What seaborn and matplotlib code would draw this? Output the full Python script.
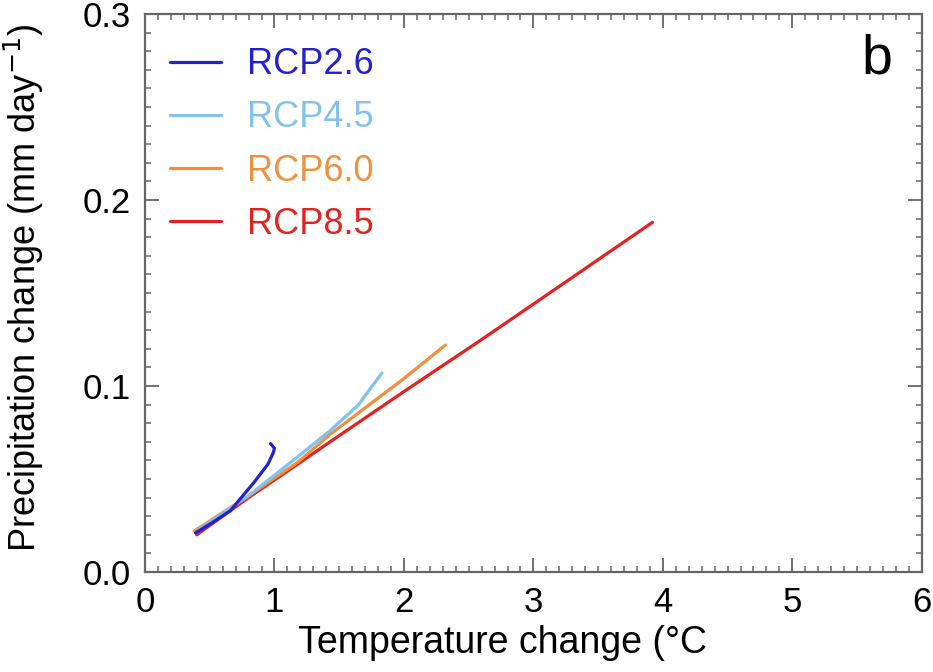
import pandas as pd
import matplotlib.pyplot as plt
import numpy as np
import seaborn as sns
from matplotlib.ticker import MultipleLocator

scenarios = ['RCP2.6', 'RCP4.5', 'RCP6.0', 'RCP8.5']
colors = ['#2222d2', '#82c2ee', '#f0903e', '#e2231f']

# temperature change (°C) and precipitation change (mm/day)
rcp26_t = [0.39, 0.53, 0.66, 0.84, 0.95, 0.99, 1.00, 0.97]
rcp26_p = [0.021, 0.027, 0.033, 0.048, 0.058, 0.064, 0.0665, 0.069]
rcp45_t = [0.42, 0.80, 1.18, 1.43, 1.65, 1.83]
rcp45_p = [0.023, 0.041, 0.062, 0.076, 0.090, 0.107]
rcp60_t = [0.38, 0.80, 1.18, 1.43, 2.00, 2.32]
rcp60_p = [0.022, 0.041, 0.059, 0.074, 0.104, 0.122]
rcp85_t = [0.40, 0.80, 1.18, 1.43, 2.00, 2.59, 2.97, 3.23, 3.92]
rcp85_p = [0.020, 0.040, 0.058, 0.070, 0.097, 0.1245, 0.1426, 0.155, 0.188]

def build_frame():
    parts = []
    for name, t, p in zip(scenarios,
                          [rcp26_t, rcp45_t, rcp60_t, rcp85_t],
                          [rcp26_p, rcp45_p, rcp60_p, rcp85_p]):
        parts.append(pd.DataFrame({'temp': t, 'precip': p, 'scenario': name}))
    return pd.concat(parts, ignore_index=True)


def output_precip_vs_temp():
    df = build_frame()
    sns.set_style('ticks')
    plt.rcParams['font.family'] = ['Liberation Sans', 'DejaVu Sans']
    plt.rcParams['text.color'] = 'black'
    plt.rcParams['axes.labelcolor'] = 'black'

    fig = plt.figure(figsize=(9.33, 6.72), dpi=100)
    ax = fig.add_axes([0.1554, 0.1488, 0.8326, 0.8304])

    sns.lineplot(data=df, x='temp', y='precip', hue='scenario', units='scenario',
                 estimator=None, sort=False, hue_order=scenarios,
                 palette=dict(zip(scenarios, colors)), linewidth=2.3, ax=ax, legend=False)
    # RCP2.6 on top, RCP8.5 underneath
    for i, ln in enumerate(ax.get_lines()):
        ln.set_zorder(10 - i)
        ln.set_solid_capstyle('round')

    ax.set_xlim(0, 6)
    ax.set_ylim(0, 0.3)
    ax.xaxis.set_major_locator(MultipleLocator(1))
    ax.xaxis.set_minor_locator(MultipleLocator(0.1))
    ax.yaxis.set_major_locator(MultipleLocator(0.1))
    ax.yaxis.set_minor_locator(MultipleLocator(0.01))
    ax.yaxis.set_major_formatter(plt.FormatStrFormatter('%.1f'))
    ax.tick_params(which='both', direction='in', top=True, right=True,
                   color='#666666', labelsize=25, labelcolor='black')
    ax.tick_params(which='major', length=10, width=1.3, pad=10)
    ax.tick_params(which='minor', length=4.5, width=1.1)
    for s in ax.spines.values():
        s.set_color('#666666')
        s.set_linewidth(1.6)

    ax.set_xlabel('Temperature change (°C', fontsize=27)
    ax.xaxis.set_label_coords(0.46, -0.095)
    ax.set_ylabel('Precipitation change (mm day$^{-1}$)', fontsize=26)
    ax.yaxis.set_label_coords(-0.128, 0.51)

    handles = [plt.Line2D([], [], color=c, lw=2.3) for c in colors]
    ax.legend(handles, scenarios, loc='upper left', frameon=False, fontsize=26,
              labelcolor=colors, handlelength=1.4, handletextpad=0.72,
              labelspacing=0.5, borderaxespad=0, borderpad=0.4,
              bbox_to_anchor=(0.014, 0.966))

    ax.text(0.942, 0.9176, 'b', transform=ax.transAxes, fontsize=40,
            ha='center', va='center')

    plt.savefig('out.png', dpi=100)


if __name__ == '__main__':
    output_precip_vs_temp()
